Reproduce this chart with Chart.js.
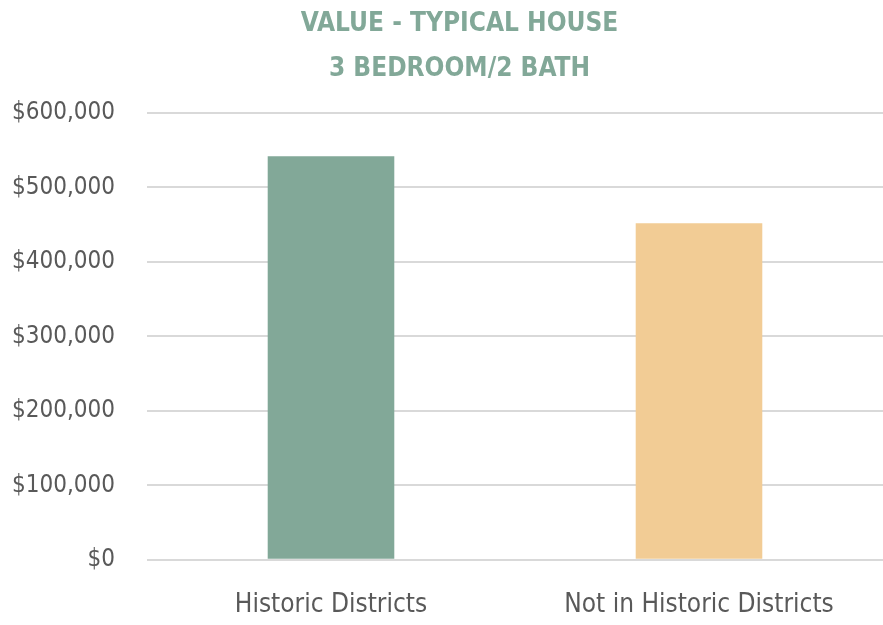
<!DOCTYPE html>
<html>
<head>
<meta charset="utf-8">
<script src="https://cdn.jsdelivr.net/npm/chart.js@4"></script>
<style>
  html, body { margin: 0; padding: 0; background: #fff; }
  #wrap { width: 883px; height: 625px; }
</style>
</head>
<body>
<div id="wrap"><canvas id="chart"></canvas></div>
<script>
// Chart data
const categories = ["Historic Districts", "Not in Historic Districts"];
const houseValues = [542000, 452000];
const barColors = ["#82a898", "#f2cc95"];
const titleLines = ["VALUE - TYPICAL HOUSE", "3 BEDROOM/2 BATH"];

const fontFamily = "'DejaVu Sans Condensed', 'Liberation Sans Narrow', sans-serif";

// the original title sits a bit right of the canvas centre
const shiftTitle = {
  id: "shiftTitle",
  afterLayout(chart) {
    if (chart.titleBlock) {
      chart.titleBlock.left += 24;
      chart.titleBlock.right += 24;
    }
  },
};

const ctx = document.getElementById("chart").getContext("2d");
new Chart(ctx, {
  type: "bar",
  data: {
    labels: categories,
    datasets: [
      {
        data: houseValues,
        backgroundColor: barColors,
        categoryPercentage: 1,
        barPercentage: 0.344,
      },
    ],
  },
  options: {
    responsive: true,
    maintainAspectRatio: false,
    animation: false,
    // tick padding gets counted twice by the axis fit, so pull the edges back
    layout: { padding: { top: 2, right: -8, left: -20, bottom: -26 } },
    plugins: {
      legend: { display: false },
      tooltip: { enabled: false },
      title: {
        display: true,
        text: titleLines,
        color: "#82a898",
        font: { family: fontFamily, size: 26, weight: "bold", lineHeight: 1.73 },
        padding: { top: 0, bottom: 21 },
      },
    },
    scales: {
      x: {
        grid: { display: false, drawTicks: false },
        border: { display: false },
        ticks: {
          color: "#595959",
          padding: 30,
          font: { family: fontFamily, size: 26 },
        },
      },
      y: {
        min: 0,
        max: 600000,
        grid: { color: "#d9d9d9", lineWidth: 2, drawTicks: false },
        border: { display: false },
        ticks: {
          stepSize: 100000,
          color: "#595959",
          padding: 32,
          font: { family: fontFamily, size: 24 },
          callback: (v) => "$" + v.toLocaleString("en-US"),
        },
      },
    },
  },
  plugins: [shiftTitle],
});
</script>
</body>
</html>
